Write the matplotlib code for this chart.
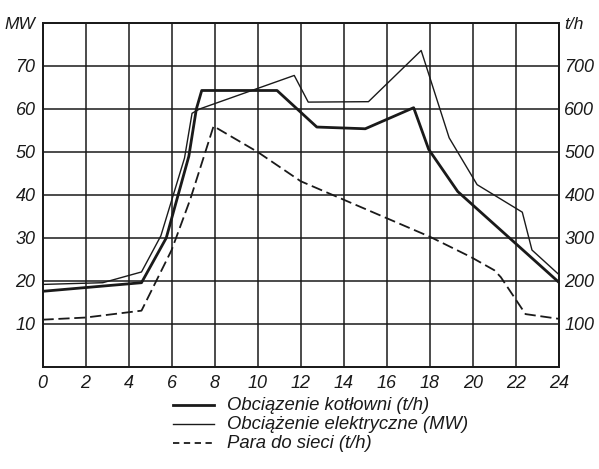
import matplotlib
matplotlib.use("Agg")
import matplotlib.pyplot as plt
from matplotlib.lines import Line2D

# Daily load curves of a power plant (hour of day)
boiler_hours = [0, 4.6, 5.75, 6.8, 7.15, 7.4, 10.9, 12.75, 15.0, 17.25, 17.95, 19.3, 24]
boiler_th = [176, 196, 300, 490, 600, 643, 643, 558, 554, 603, 506, 408, 197]

electric_hours = [0, 2.8, 4.6, 5.5, 6.6, 6.95, 7.3, 11.7, 12.35, 15.15, 17.6, 18.9, 20.2, 22.3, 22.75, 24]
electric_mw = [19.2, 19.6, 22.1, 30.5, 48.6, 59.0, 60.0, 67.8, 61.6, 61.7, 73.6, 53.3, 42.4, 36.0, 27.2, 21.5]

steam_hours = [0, 2, 4.6, 6.0, 6.86, 7.95, 10, 12, 18.0, 19.9, 21.0, 21.3, 22.45, 24]
steam_th = [110, 115, 131, 272, 389, 560, 500, 432, 303, 256, 225, 209, 123, 112]

x_ticks = list(range(0, 25, 2))
mw_ticks = [10, 20, 30, 40, 50, 60, 70, 80]
mw_labels = ["10", "20", "30", "40", "50", "60", "70", "MW"]
th_ticks = [100, 200, 300, 400, 500, 600, 700, 800]
th_labels = ["100", "200", "300", "400", "500", "600", "700", "t/h"]

legend_labels = [
    "Obciązenie kotłowni (t/h)",
    "Obciążenie elektryczne (MW)",
    "Para do sieci (t/h)",
]

plt.rcParams["font.family"] = ["Liberation Sans", "DejaVu Sans"]
plt.rcParams["font.style"] = "italic"

ink = "#1a1a1a"

fig = plt.figure(figsize=(5.99, 4.69), dpi=100)
ax = fig.add_axes([0.071, 0.2175, 0.862, 0.7335])
ax2 = ax.twinx()

ax.set_xlim(0, 24)
ax.set_ylim(0, 80)
ax2.set_ylim(0, 800)

ax.set_xticks(x_ticks)
ax.set_xticklabels([str(t) for t in x_ticks])
ax.set_yticks(mw_ticks)
ax.set_yticklabels(mw_labels)
ax2.set_yticks(th_ticks)
ax2.set_yticklabels(th_labels)

ax.grid(True, color=ink, linewidth=1.1)
ax.set_axisbelow(True)
for a in (ax, ax2):
    for s in a.spines.values():
        s.set_color(ink)
        s.set_linewidth(1.3)

ax.tick_params(axis="both", length=0, labelsize=13, colors=ink)
ax.tick_params(axis="x", pad=6)
ax.tick_params(axis="y", pad=5)
ax2.tick_params(axis="y", length=0, labelsize=13, colors=ink, pad=4)

# unit captions at the top of each scale
for lbl in list(ax.get_yticklabels()) + list(ax2.get_yticklabels()):
    if lbl.get_text() in ("MW", "t/h"):
        lbl.set_fontsize(12.5)

ax.plot(electric_hours, electric_mw, color=ink, linewidth=1.0)
ax2.plot(boiler_hours, boiler_th, color=ink, linewidth=2.0)
ax2.plot(steam_hours, steam_th, color=ink, linewidth=1.3, dashes=(6.2, 2.6))

# Key below the plot
rows_y = [1 - 405 / 469, 1 - 424 / 469, 1 - 443 / 469]
styles = [dict(linewidth=2.0), dict(linewidth=1.0), dict(linewidth=1.3, dashes=(3.5, 2.5))]
for y, lab, st in zip(rows_y, legend_labels, styles):
    fig.add_artist(Line2D([173 / 599, 214 / 599], [y, y], color=ink, **st))
    fig.text(227 / 599, y, lab, fontsize=13.3, color=ink, va="center", ha="left")

fig.savefig("out.png", dpi=100, facecolor="white")
